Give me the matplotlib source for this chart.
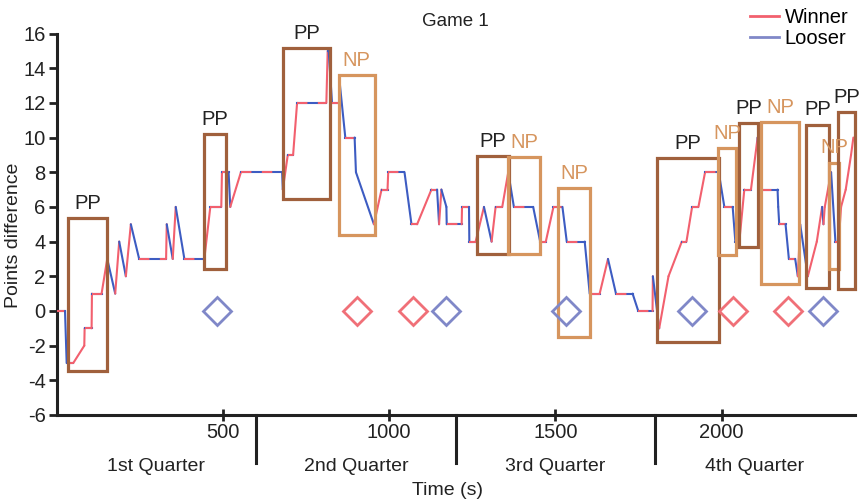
import matplotlib
matplotlib.use("Agg")
import matplotlib.pyplot as plt
from matplotlib.lines import Line2D
from matplotlib.patches import Rectangle
import numpy as np

plt.rcParams['font.family'] = ['Liberation Sans', 'DejaVu Sans']
plt.rcParams['axes.unicode_minus'] = False

# ---- data ----
time_s = [0, 25, 30, 50, 83, 84, 105, 106, 135, 152, 176, 188, 208, 223, 248, 329, 331, 349,
          358, 384, 444, 462, 495, 497, 517, 522, 554, 678, 680, 695, 711, 723, 811, 815, 818,
          828, 850, 852, 868, 896, 900, 954, 977, 995, 997, 1046, 1067, 1084, 1127, 1144, 1150,
          1157, 1172, 1173, 1218, 1219, 1240, 1241, 1260, 1285, 1308, 1320, 1340, 1358, 1375,
          1433, 1454, 1471, 1494, 1521, 1534, 1588, 1603, 1633, 1658, 1682, 1732, 1749, 1792,
          1793, 1812, 1840, 1880, 1894, 1911, 1930, 1950, 1991, 2008, 2033, 2041, 2053, 2068,
          2088, 2108, 2118, 2168, 2170, 2173, 2192, 2202, 2221, 2229, 2236, 2259, 2286, 2302,
          2306, 2310, 2329, 2342, 2352, 2359, 2373, 2389, 2396]
points_diff = [0, 0, -3, -3, -2, -1, -1, 1, 1, 3, 1, 4, 2, 5, 3, 3, 5, 3,
               6, 3, 3, 6, 6, 8, 8, 6, 8, 8, 7, 9, 9, 12, 12, 15, 15,
               12, 12, 13, 10, 10, 8, 5, 7, 7, 8, 8, 5, 5, 7, 7, 5,
               7, 6, 5, 5, 6, 6, 4, 4, 6, 4, 6, 6, 8, 6,
               6, 4, 4, 6, 6, 4, 4, 1, 1, 3, 1, 1, 0, 0,
               2, -1, 2, 4, 4, 6, 6, 8, 8, 6, 6, 4, 4, 7,
               7, 10, 7, 7, 6, 5, 5, 3, 3, 2, 5, 2, 4, 6,
               5, 6, 8, 4, 4, 6, 7, 9, 10]

# boxes: (label, t0, t1, v0, v1)
box_labels = ['PP', 'PP', 'PP', 'NP', 'PP', 'NP', 'NP', 'PP', 'NP', 'PP', 'NP', 'PP', 'NP', 'PP']
box_t0 = [35, 442, 681, 848, 1265, 1358, 1508, 1805, 1988, 2053, 2118, 2254, 2324, 2349]
box_t1 = [151, 510, 821, 956, 1360, 1454, 1604, 1991, 2043, 2108, 2232, 2322, 2354, 2401]
box_v0 = [-3.45, 2.4, 6.43, 4.37, 3.26, 3.26, -1.52, -1.81, 3.22, 3.67, 1.53, 1.3, 2.4, 1.24]
box_v1 = [5.35, 10.18, 15.17, 13.6, 8.93, 8.85, 7.07, 8.83, 9.37, 10.85, 10.9, 10.75, 8.56, 11.45]

winner_marks = [903, 1071, 2035, 2200]
looser_marks = [482, 1171, 1533, 1911, 2306]

quarter_names = ['1st Quarter', '2nd Quarter', '3rd Quarter', '4th Quarter']
quarter_bounds = [0, 600, 1200, 1800, 2400]

# ---- styles ----
RED = '#F2606E'
BLUE = '#3D5CC2'
RED_M = '#F07078'
BLUE_M = '#8088C8'
PP_C = '#A0603C'
NP_C = '#D6955E'
INK = '#222222'

fig = plt.figure(figsize=(8.59, 5.0), dpi=100)
ax = fig.add_axes([0.066, 0.17, 0.929, 0.763])

t = np.array(time_s, float)
v = np.array(points_diff, float)
for i in range(len(t) - 1):
    xs = t[i:i + 2]
    ys = v[i:i + 2]
    if ys[1] > ys[0]:
        ax.plot(xs, ys, color=RED, lw=1.5, solid_capstyle='round', zorder=3)
    elif ys[1] < ys[0]:
        ax.plot(xs, ys, color=BLUE, lw=1.5, solid_capstyle='round', zorder=3)
    else:
        ax.plot(xs, ys, color=BLUE, lw=1.5, zorder=3)
        ax.plot(xs, ys, color=RED, lw=1.5, dashes=(5, 5), zorder=3)

for lab, a, b, lo, hi in zip(box_labels, box_t0, box_t1, box_v0, box_v1):
    c = PP_C if lab == 'PP' else NP_C
    ax.add_patch(Rectangle((a, lo), b - a, hi - lo, fill=False, ec=c, lw=2.3,
                           zorder=4, clip_on=False))
    ax.text((a + b) / 2, hi + 0.3, lab, ha='center', va='bottom', fontsize=14.5,
            color=INK if lab == 'PP' else NP_C, clip_on=False, zorder=5)

ax.plot(winner_marks, [0] * len(winner_marks), ls='none', marker='D', ms=14,
        mfc='none', mec=RED_M, mew=2.0, zorder=5)
ax.plot(looser_marks, [0] * len(looser_marks), ls='none', marker='D', ms=14,
        mfc='none', mec=BLUE_M, mew=2.0, zorder=5)

ax.set_xlim(0, 2400)
ax.set_ylim(-6, 16)
ax.set_yticks(range(-6, 17, 2))
ax.set_xticks([500, 1000, 1500, 2000])
for s in ['top', 'right']:
    ax.spines[s].set_visible(False)
for s in ['left', 'bottom']:
    ax.spines[s].set_linewidth(2.2)
    ax.spines[s].set_color(INK)
ax.tick_params(axis='both', width=2, length=6, labelsize=14.5, colors=INK, pad=2)
ax.tick_params(axis='x', direction='inout', length=8)

xt = ax.get_xaxis_transform()
for qb in quarter_bounds[1:-1]:
    ax.add_line(Line2D([qb, qb], [0, -0.125], transform=xt, color=INK, lw=2.2,
                       clip_on=False))
for i, name in enumerate(quarter_names):
    ax.text((quarter_bounds[i] + quarter_bounds[i + 1]) / 2, -0.135, name, transform=xt,
            ha='center', va='center', fontsize=14, color=INK)

ax.text(0.49, -0.197, 'Time (s)', transform=ax.transAxes, ha='center', va='center',
        fontsize=14, color=INK)
ax.set_ylabel('Points difference', fontsize=14, color=INK)
ax.yaxis.set_label_coords(-0.043, 0.47)
ax.set_title('Game 1', fontsize=13.5, color=INK, pad=0, y=1.02)

handles = [Line2D([], [], color=RED, lw=2), Line2D([], [], color=BLUE_M, lw=2)]
fig.legend(handles, ['Winner', 'Looser'], loc='upper right', bbox_to_anchor=(1.004, 1.012),
           frameon=False, fontsize=14.5, handlelength=1.4, handletextpad=0.3,
           labelspacing=0.1, borderpad=0.2)

fig.savefig('out.png', dpi=100)
